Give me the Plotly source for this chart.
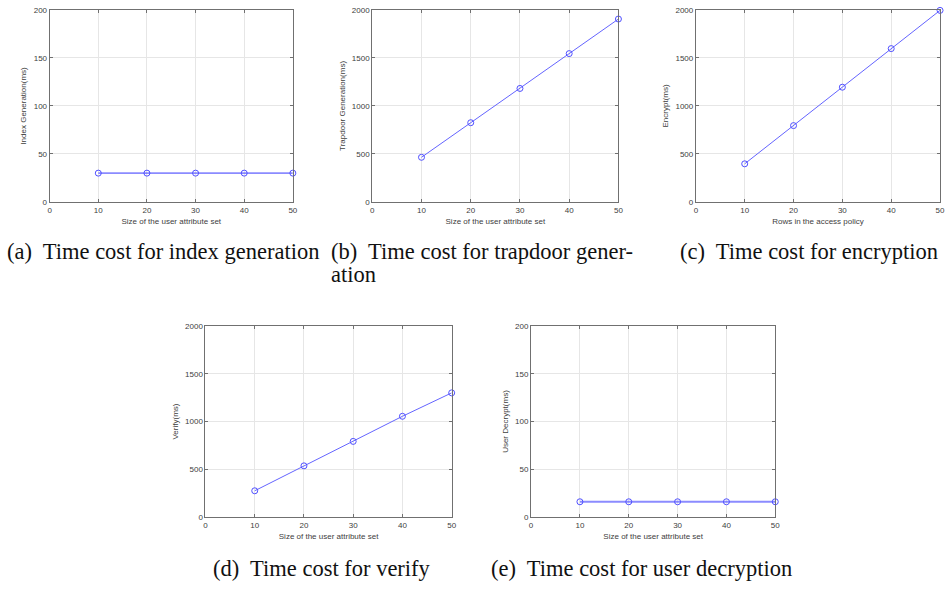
import plotly.graph_objects as go

W, H = 952, 590

# ---- data ----
attr_sizes = [10, 20, 30, 40, 50]
index_generation = [30, 30, 30, 30, 30]
trapdoor_generation = [465, 825, 1182, 1545, 1905]
encrypt_rows = [10, 20, 30, 40, 50]
encrypt_time = [397, 795, 1195, 1597, 1995]
verify_time = [275, 536, 792, 1055, 1300]
user_decrypt = [16, 16, 16, 16, 16]

x_ticks = [0, 10, 20, 30, 40, 50]
y_ticks_small = [0, 50, 100, 150, 200]
y_ticks_large = [0, 500, 1000, 1500, 2000]

panels = [
    dict(x=attr_sizes, y=index_generation, xt="Size of the user attribute set",
         yt="Index Generation(ms)", yr=200, yticks=y_ticks_small, box=(48, 293, 6, 201), flat=True),
    dict(x=attr_sizes, y=trapdoor_generation, xt="Size of the user attribute set",
         yt="Trapdoor Generation(ms)", yr=2000, yticks=y_ticks_large, box=(373, 621, 6, 201), flat=False),
    dict(x=encrypt_rows, y=encrypt_time, xt="Rows in the access policy",
         yt="Encrypt(ms)", yr=2000, yticks=y_ticks_large, box=(699, 945, 6, 201), flat=False),
    dict(x=attr_sizes, y=verify_time, xt="Size of the user attribute set",
         yt="Verify(ms)", yr=2000, yticks=y_ticks_large, box=(205, 453, 327, 521), flat=False),
    dict(x=attr_sizes, y=user_decrypt, xt="Size of the user attribute set",
         yt="User Decrypt(ms)", yr=200, yticks=y_ticks_small, box=(533, 779, 327, 521), flat=True),
]

captions = [
    ("(a)  Time cost for index generation", 7, 251),
    ("(b)  Time cost for trapdoor gener-", 333, 251),
    ("ation", 333, 275),
    ("(c)  Time cost for encryption", 685, 251),
    ("(d)  Time cost for verify", 215, 573),
    ("(e)  Time cost for user decryption", 495, 573),
]


def px(x):
    return min(1.0, max(0.0, x / W))


def py(y):
    return min(1.0, max(0.0, 1 - y / H))


fig = go.Figure()
axis_font = dict(family="Liberation Sans, Arial, sans-serif", size=8, color="#404040")
layout = dict(width=W, height=H, margin=dict(l=0, r=0, t=0, b=0),
              paper_bgcolor="white", plot_bgcolor="white", showlegend=False)

for i, p in enumerate(panels, start=1):
    xa = "x" if i == 1 else f"x{i}"
    ya = "y" if i == 1 else f"y{i}"
    x0, x1, y0, y1 = p["box"]
    color = "rgba(90,90,255,0.7)" if p["flat"] else "rgb(100,100,255)"
    fig.add_trace(go.Scatter(
        x=p["x"], y=p["y"], mode="lines+markers", xaxis=xa, yaxis=ya, cliponaxis=False,
        line=dict(color=color, width=1.8 if p["flat"] else 1),
        marker=dict(symbol="circle-open", size=6, color="rgb(80,80,255)", line=dict(width=1)),
    ))
    common = dict(showline=True, linecolor="#707070", linewidth=1, mirror="allticks",
                  ticks="inside", ticklen=3, tickcolor="#707070", tickwidth=1,
                  showgrid=True, gridcolor="#e6e6e6", gridwidth=1, zeroline=False,
                  tickfont=axis_font, ticklabeloverflow="allow")
    layout["xaxis" if i == 1 else f"xaxis{i}"] = dict(
        domain=[px(x0), px(x1)], range=[0, 50], tickvals=x_ticks, anchor=ya,
        title=dict(text=p["xt"], font=axis_font, standoff=4), **common)
    layout["yaxis" if i == 1 else f"yaxis{i}"] = dict(
        domain=[py(y1), py(y0)], range=[0, p["yr"]], tickvals=p["yticks"], anchor=xa,
        title=dict(text=p["yt"], font=axis_font, standoff=5), **common)

fig.update_layout(**layout)

for text, lx, cy in captions:
    fig.add_annotation(text=text, xref="paper", yref="paper", x=px(lx - 4), y=py(cy),
                       xanchor="left", yanchor="middle", showarrow=False,
                       font=dict(family="Liberation Serif, Times New Roman, serif", size=22.5, color="#111111"))

# remove the browser's default 8px body margin so the figure fills the window exactly
fig.write_html("out.html", config={"displayModeBar": False},
               post_script="document.body.style.margin='0px';")
